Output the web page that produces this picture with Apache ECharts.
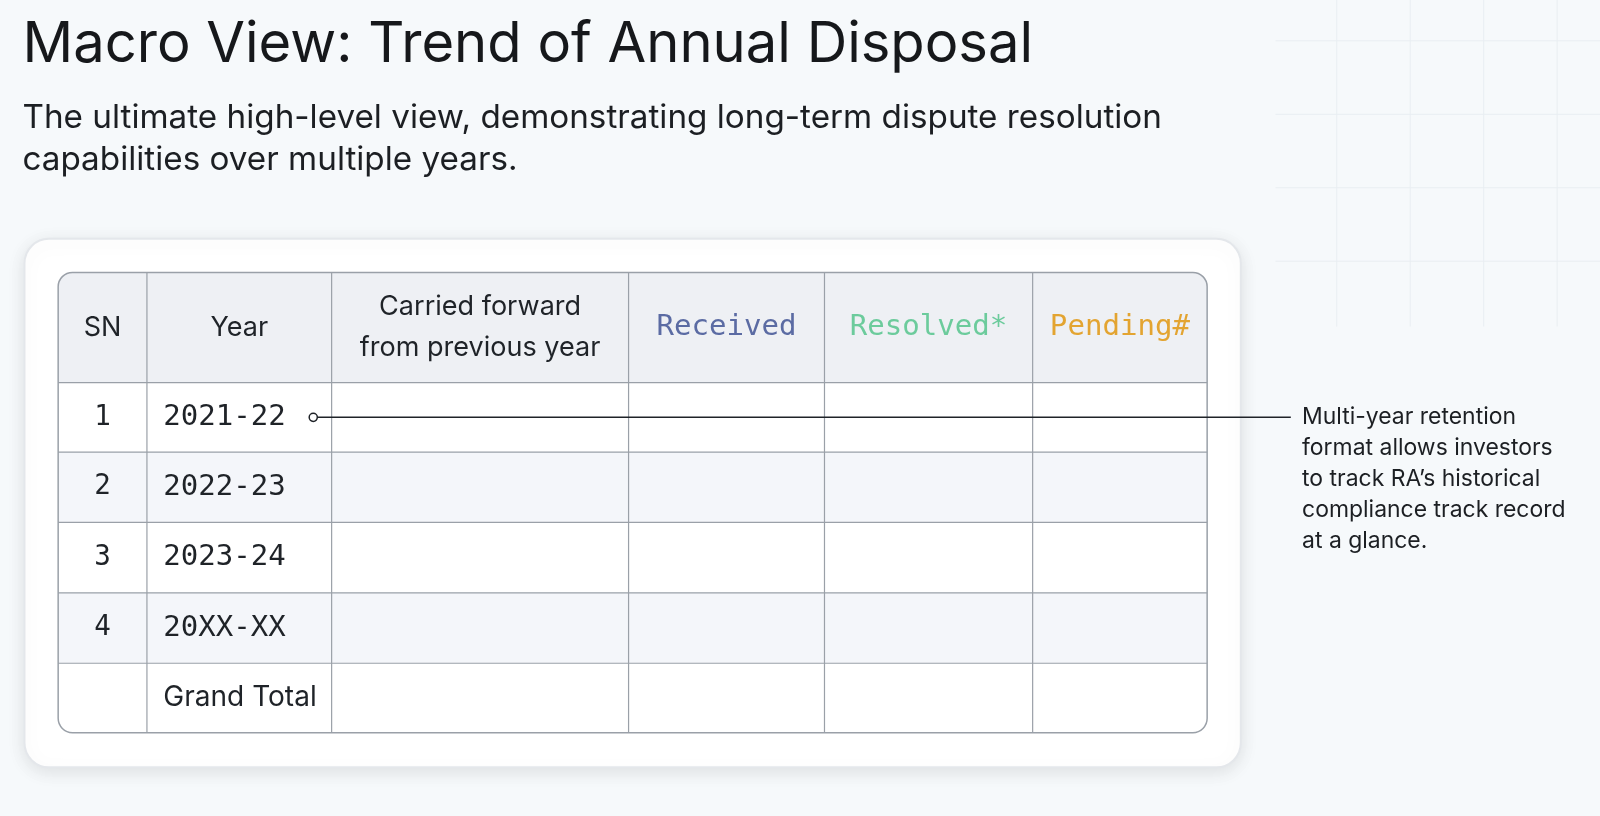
<!DOCTYPE html>
<html><head><meta charset="utf-8">
<script src="https://cdn.jsdelivr.net/npm/echarts@6/dist/echarts.min.js"></script>
<style>html,body{margin:0;padding:0;background:#f6f9fb}#c{width:1600px;height:816px}</style>
</head><body><div id="c"></div>
<script>
const title = "Macro View: Trend of Annual Disposal";
const subtitle = ["The ultimate high-level view, demonstrating long-term dispute resolution", "capabilities over multiple years."];
const headers = ["SN", "Year", "Carried forward\nfrom previous year", "Received", "Resolved*", "Pending#"];
const headerColors = ["#1f2328", "#1f2328", "#1f2328", "#5b6ba3", "#6ccb9c", "#e3a431"];
const sn = ["1", "2", "3", "4", ""];
const years = ["2021-22", "2022-23", "2023-24", "20XX-XX", "Grand Total"];
const note = ["Multi-year retention", "format allows investors", "to track RA\u2019s historical", "compliance track record", "at a glance."];

const s = 1600 / 1568;
const colX = [57, 144, 325, 616, 808, 1012, 1183].map(v => v * s);
const rowY = [267, 375, 443, 512, 581, 650, 718].map(v => v * s);
const mono = "'DejaVu Sans Mono', monospace";
const sans = "Inter, 'Noto Sans', sans-serif";
const g = [];
for (let x = 1310; x < 1600; x += 72) g.push({type:'line', shape:{x1:x*s,y1:0,x2:x*s,y2:320*s}, style:{stroke:'#e9eef2',lineWidth:1}, z:0});
for (let y = 40; y < 320; y += 72) g.push({type:'line', shape:{x1:1250*s,y1:y*s,x2:1600,y2:y*s}, style:{stroke:'#e9eef2',lineWidth:1}, z:0});
g.push({type:'text', x:22*s, y:17*s, style:{text:title, font:`400 ${55*s}px ${sans}`, fill:'#16181b'}});
subtitle.forEach((t,i)=>g.push({type:'text', x:22*s, y:(99+i*42)*s, style:{text:t, font:`400 ${32.6*s}px ${sans}`, fill:'#1c1f23'}}));
g.push({type:'rect', shape:{x:24*s,y:234*s,width:1192*s,height:518*s,r:24*s}, style:{fill:'#ffffff',stroke:'#e4e7eb',lineWidth:2,shadowBlur:18,shadowColor:'rgba(0,0,0,0.10)',shadowOffsetY:4}, z:1});
const tx=colX[0], ty=rowY[0], tw=colX[6]-colX[0], th=rowY[6]-rowY[0];
g.push({type:'rect', shape:{x:tx,y:ty,width:tw,height:th,r:14*s}, style:{fill:'#ffffff'}, z:2});
g.push({type:'rect', shape:{x:tx,y:ty,width:tw,height:rowY[1]-ty,r:[14*s,14*s,0,0]}, style:{fill:'#eef0f4'}, z:2});
[2,4].forEach(r=>g.push({type:'rect', shape:{x:tx,y:rowY[r],width:tw,height:rowY[r+1]-rowY[r]}, style:{fill:'#f4f6fa'}, z:2}));
for (let i=1;i<6;i++) g.push({type:'line', shape:{x1:colX[i],y1:ty,x2:colX[i],y2:rowY[6]}, style:{stroke:'#9aa0a8',lineWidth:1.2}, z:3});
for (let i=1;i<6;i++) g.push({type:'line', shape:{x1:tx,y1:rowY[i],x2:colX[6],y2:rowY[i]}, style:{stroke:'#9aa0a8',lineWidth:1.2}, z:3});
g.push({type:'rect', shape:{x:tx,y:ty,width:tw,height:th,r:14*s}, style:{fill:'none',stroke:'#9aa0a8',lineWidth:1.5}, z:4});
headers.forEach((h,i)=>{
  const m = i>=3;
  g.push({type:'text', x:(colX[i]+colX[i+1])/2, y:(rowY[0]+rowY[1])/2, z:5,
    style:{text:h, align:'center', verticalAlign:'middle', lineHeight:40*s, font:`400 ${(m?28.5:26.5)*s}px ${m?mono:sans}`, fill:headerColors[i]}});
});
years.forEach((yv,r)=>{
  const cy=(rowY[r+1]+rowY[r+2])/2;
  g.push({type:'text', x:(colX[0]+colX[1])/2, y:cy, z:5, style:{text:sn[r], align:'center', verticalAlign:'middle', font:`400 ${27*s}px ${mono}`, fill:'#1f2328'}});
  const last = r===years.length-1;
  g.push({type:'text', x:160*s, y:cy, z:5, style:{text:yv, verticalAlign:'middle', font:`400 ${(last?27.5:28.5)*s}px ${last?sans:mono}`, fill:'#1f2328'}});
});
const ay=(rowY[1]+rowY[2])/2;
g.push({type:'line', shape:{x1:311*s,y1:ay,x2:1265*s,y2:ay}, style:{stroke:'#1f2328',lineWidth:1.5}, z:6});
g.push({type:'circle', shape:{cx:307*s,cy:ay,r:4*s}, style:{fill:'#fff',stroke:'#1f2328',lineWidth:1.5}, z:7});
note.forEach((t,i)=>g.push({type:'text', x:1276*s, y:(409+i*30.2)*s, z:6, style:{text:t, verticalAlign:'middle', font:`400 ${22.5*s}px ${sans}`, fill:'#1c1f23'}}));

const chart = echarts.init(document.getElementById('c'));
chart.setOption({backgroundColor:'#f6f9fb', graphic:{elements:g}});
</script></body></html>
